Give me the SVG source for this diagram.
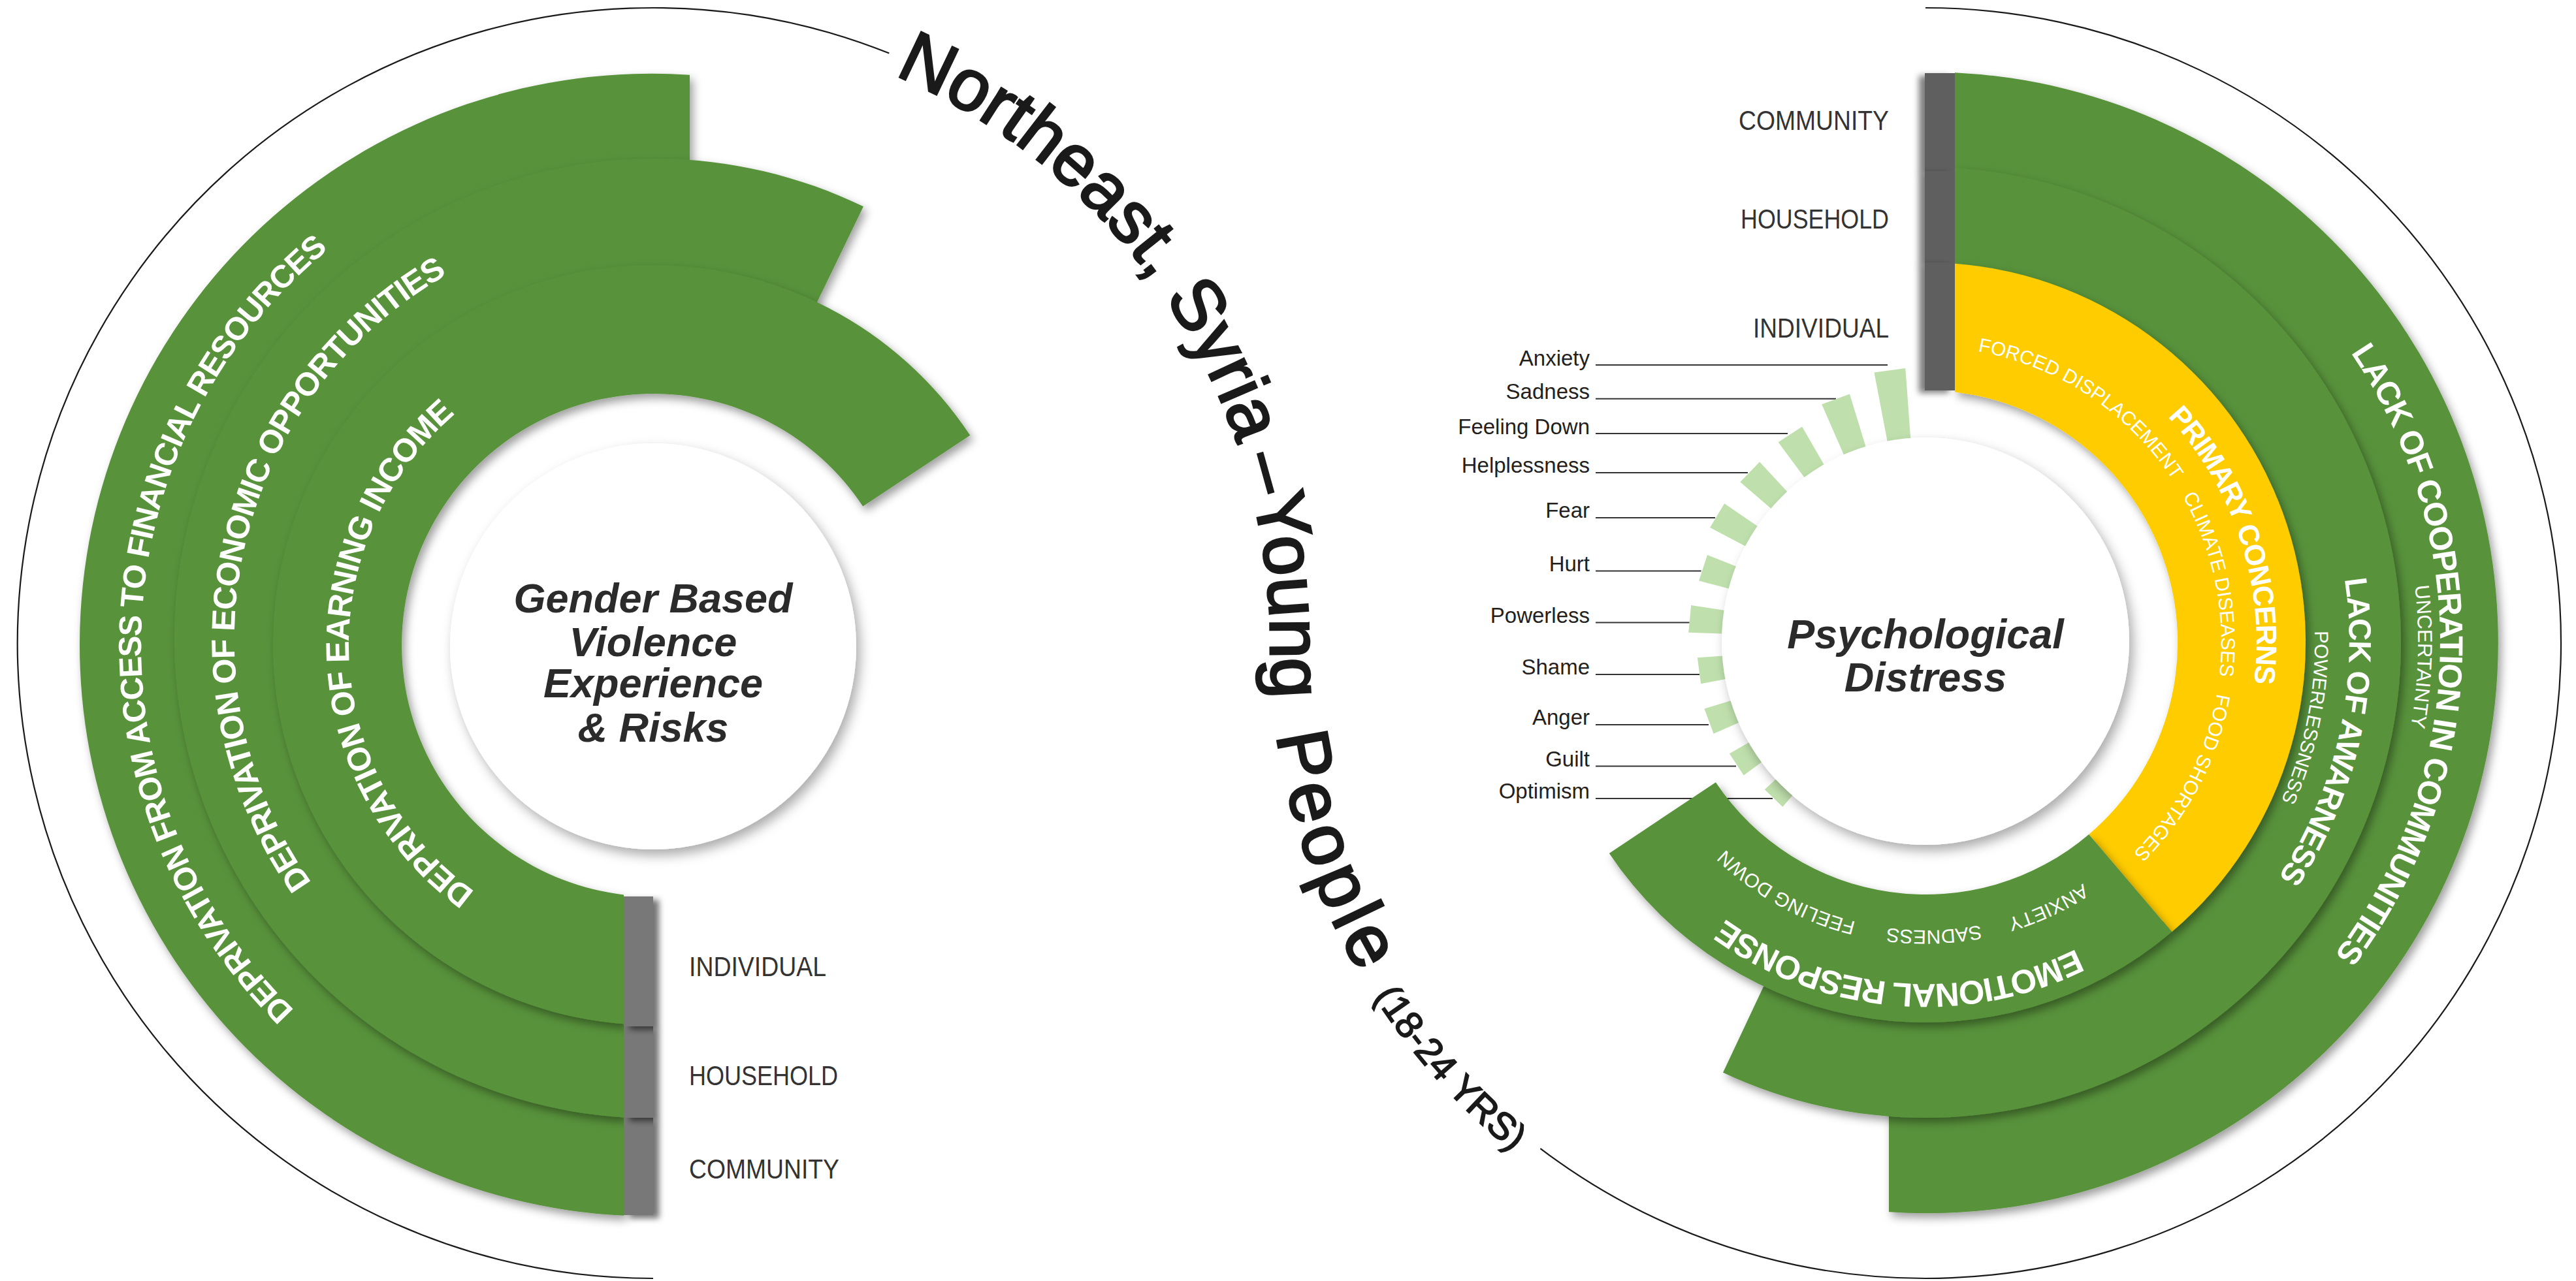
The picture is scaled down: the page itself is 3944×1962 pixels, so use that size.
<svg xmlns="http://www.w3.org/2000/svg" width="3944" height="1962" viewBox="0 0 3944 1962">
<defs>
<style>
.g{fill:#58923b}
.yl{fill:#ffcc00}
.lg{fill:#bfe0ad}
.gl{fill:#787878}
.gr{fill:#5f5f5f}
.wc{fill:#ffffff}
.bt{font-family:'Liberation Sans',Arial,sans-serif;font-weight:bold;fill:#ffffff}
.st{font-family:'Liberation Sans',Arial,sans-serif;fill:#ffffff}
.lv{font-family:'Liberation Sans',Arial,sans-serif;font-size:42px;fill:#333333}
.em{font-family:'Liberation Sans',Arial,sans-serif;font-size:33px;fill:#231f20;text-anchor:end}
.ct{font-family:'Liberation Sans',Arial,sans-serif;font-weight:bold;font-style:italic;font-size:63px;fill:#2b2b2b;text-anchor:middle}
.hd{font-family:'Liberation Sans',Arial,sans-serif;fill:#1a1a1a;stroke:#1a1a1a;stroke-width:3.2}
.ol{fill:none;stroke:#1a1a1a;stroke-width:2.2}
.ld{stroke:#333333;stroke-width:2;fill:none}
</style>
<filter id="sh" x="-5%" y="-5%" width="115%" height="115%"><feDropShadow dx="5" dy="7" stdDeviation="7" flood-color="#000" flood-opacity="0.38"/></filter>
<filter id="shc" x="-10%" y="-10%" width="125%" height="125%"><feDropShadow dx="6" dy="9" stdDeviation="9" flood-color="#000" flood-opacity="0.33"/></filter>
<filter id="shR" x="-20%" y="-20%" width="180%" height="140%"><feDropShadow dx="9" dy="5" stdDeviation="5" flood-color="#000" flood-opacity="0.55"/></filter>
<filter id="shL" x="-80%" y="-20%" width="180%" height="140%"><feDropShadow dx="-9" dy="4" stdDeviation="5" flood-color="#000" flood-opacity="0.5"/></filter>
<path id="pT" d="M 1369.2 115.1 A 945 945 0 0 1 1945 985 A 1003 1003 0 0 0 2605 1927.5"/>
<path id="pL1" d="M 830.3 1753.4 A 784 784 0 0 1 897.7 210.7"/>
<path id="pL2" d="M 755.9 1574.1 A 643 643 0 0 1 1030 337.6"/>
<path id="pL3" d="M 938.4 1449.9 A 466 466 0 0 1 899.9 532.9"/>
<path id="pR1" d="M 3105.1 211.8 A 788 788 0 0 1 3064.5 1763.3"/>
<path id="pR2" d="M 3100.3 245.5 A 754 754 0 0 1 3057.5 1730"/>
<path id="pR3" d="M 3195.8 384.2 A 649 649 0 0 1 2920.3 1632.4"/>
<path id="pR4" d="M 3163 428.1 A 596 596 0 0 1 2936 1579.9"/>
<path id="pR5" d="M 2877.4 481.9 A 507 507 0 0 1 3186 1431.6"/>
<path id="pR6" d="M 2721.5 591.7 A 453 453 0 1 1 2869.3 1430.1"/>
<path id="pR7" d="M 3453.8 1117.2 A 523 523 0 0 1 2427.2 1031.9"/>
<path id="pR8" d="M 3329.9 1204.5 A 441 441 0 0 1 2566.1 1204.5"/>
</defs>
<rect width="3944" height="1962" fill="#ffffff"/>

<g id="outline">
<path class="ol" d="M 1000 1958 A 973 973 0 1 1 1361.3 81.6"/>
<path class="ol" d="M 2358.4 1759 A 973 973 0 1 0 2948 12"/>
</g>

<g id="title">
<text class="hd" font-size="111"><textPath href="#pT" startOffset="0">Northeast, Syria</textPath></text>
<text class="hd" font-size="111"><textPath href="#pT" startOffset="818">–</textPath></text>
<text class="hd" font-size="111"><textPath href="#pT" startOffset="880">Young</textPath></text>
<text class="hd" font-size="112" letter-spacing="8"><textPath href="#pT" startOffset="1246">People</textPath></text>
<text class="hd" font-size="58" style="stroke-width:1.8"><textPath href="#pT" startOffset="1676">(18-24 YRS)</textPath></text>
</g>

<g id="connectors">
<line class="ld" x1="2443" y1="559" x2="2890" y2="559"/>
<line class="ld" x1="2443" y1="610.7" x2="2811" y2="610.7"/>
<line class="ld" x1="2443" y1="664" x2="2737" y2="664"/>
<line class="ld" x1="2443" y1="724" x2="2676" y2="724"/>
<line class="ld" x1="2443" y1="793" x2="2626" y2="793"/>
<line class="ld" x1="2443" y1="874.5" x2="2604.6" y2="874.5"/>
<line class="ld" x1="2443" y1="953.6" x2="2586.7" y2="953.6"/>
<line class="ld" x1="2443" y1="1033" x2="2602" y2="1033"/>
<line class="ld" x1="2443" y1="1110" x2="2616" y2="1110"/>
<line class="ld" x1="2443" y1="1173.5" x2="2658" y2="1173.5"/>
<line class="ld" x1="2443" y1="1223" x2="2714" y2="1223"/>
</g>

<g id="gbv-diagram">
<g id="band-financial">
<path class="g" filter="url(#sh)" d="M 955 1861.8 A 875 875 0 1 1 1056 114.8 L 1056 290.2 A 700 700 0 1 0 955 1686.6 Z"/>
</g>
<g id="band-economic">
<path class="g" filter="url(#sh)" d="M 955 1711.5 A 735 735 0 1 1 1321.9 316.3 L 1228.3 509.8 A 520 520 0 1 0 955 1495.9 Z"/>
</g>
<g id="band-income">
<path class="g" filter="url(#sh)" d="M 955 1568.3 A 582 582 0 1 1 1485.3 666.8 L 1321.1 775.5 A 385 385 0 1 0 955 1370.4 Z"/>
</g>
<g id="gbv-levels">
<rect class="gl" filter="url(#shR)" x="955" y="1711" width="45" height="150"/>
<rect class="gl" filter="url(#shR)" x="955" y="1571" width="45" height="141"/>
<rect class="gl" filter="url(#shR)" x="955" y="1373" width="45" height="199"/>
</g>
<g id="gbv-center">
<circle class="wc" filter="url(#shc)" cx="1000" cy="990" r="311"/>
<text class="ct" x="1000" y="937.5">Gender Based</text>
<text class="ct" x="1000" y="1005">Violence</text>
<text class="ct" x="1000" y="1068">Experience</text>
<text class="ct" x="1000" y="1135.5">&amp; Risks</text>
</g>
<g id="gbv-band-labels">
<text class="bt" font-size="49" letter-spacing="-1.5"><textPath href="#pL1" startOffset="50%" text-anchor="middle">DEPRIVATION FROM ACCESS TO FINANCIAL RESOURCES</textPath></text>
<text class="bt" font-size="50" letter-spacing="-1.5"><textPath href="#pL2" startOffset="50%" text-anchor="middle">DEPRIVATION OF ECONOMIC OPPORTUNITIES</textPath></text>
<text class="bt" font-size="50" letter-spacing="-1.2"><textPath href="#pL3" startOffset="50%" text-anchor="middle">DEPRIVATION OF EARNING INCOME</textPath></text>
</g>
<g id="gbv-level-labels">
<text class="lv" x="1055" y="1494.5" textLength="210" lengthAdjust="spacingAndGlyphs">INDIVIDUAL</text>
<text class="lv" x="1055" y="1661.6" textLength="228" lengthAdjust="spacingAndGlyphs">HOUSEHOLD</text>
<text class="lv" x="1055" y="1805" textLength="230" lengthAdjust="spacingAndGlyphs">COMMUNITY</text>
</g>
</g>

<g id="pd-diagram">
<g id="band-cooperation">
<path class="g" filter="url(#sh)" d="M 2993 111.2 A 874 874 0 1 1 2892 1856.2 L 2892 1681.8 A 700 700 0 1 0 2993 285.4 Z"/>
</g>
<g id="band-awareness">
<path class="g" filter="url(#sh)" d="M 2993 257.4 A 728 728 0 1 1 2638 1642.7 L 2709.6 1490.7 A 560 560 0 1 0 2993 425.8 Z"/>
</g>
<g id="band-primary">
<path class="yl" filter="url(#sh)" d="M 2993 403.7 A 582 582 0 0 1 3325.2 1427.2 L 3198.2 1278 A 386 386 0 0 0 2993 600.6 Z"/>
</g>
<g id="band-emotional">
<path class="g" filter="url(#sh)" d="M 3325.2 1427.2 A 582 582 0 0 1 2463.8 1306.9 L 2626.9 1198.2 A 386 386 0 0 0 3198.2 1278 Z"/>
</g>
<g id="pd-levels">
<rect class="gr" filter="url(#shL)" x="2947" y="112" width="46" height="151"/>
<rect class="gr" filter="url(#shL)" x="2947" y="262" width="46" height="141"/>
<rect class="gr" filter="url(#shL)" x="2947" y="402" width="46" height="196"/>
</g>
<g id="emotion-ticks">
<polygon class="lg" points="2869.5,570.4 2917.3,564.1 2926,682.8 2891.8,687.3"/>
<polygon class="lg" points="2789.2,619.3 2831.9,603.4 2860,695.2 2827.7,707.2"/>
<polygon class="lg" points="2722.6,677.3 2759.1,653.4 2798.5,721.9 2769.6,740.8"/>
<polygon class="lg" points="2664.3,738.3 2694.1,707.4 2744.4,761.7 2720.4,786.5"/>
<polygon class="lg" points="2618.1,808 2640.2,771.3 2700.5,812.5 2682.6,842.1"/>
<polygon class="lg" points="2601.1,889.4 2614.1,850.1 2669,871.8 2658.1,904.6"/>
<polygon class="lg" points="2585.2,968.7 2589.2,927.1 2651.5,936.6 2648.2,971"/>
<polygon class="lg" points="2598.9,1007.3 2604.1,1047.3 2653.3,1038 2648.8,1003.7"/>
<polygon class="lg" points="2609.5,1085.5 2623.6,1123.7 2673.1,1102.1 2661.1,1069.7"/>
<polygon class="lg" points="2647.9,1154.2 2669.7,1187.6 2706.7,1160.3 2687.8,1131.3"/>
<polygon class="lg" points="2701.8,1209.2 2729.3,1235.8 2752.2,1209.3 2727.5,1185.4"/>
</g>
<g id="pd-center">
<circle class="wc" filter="url(#shc)" cx="2948" cy="982" r="312"/>
<text class="ct" x="2948" y="993">Psychological</text>
<text class="ct" x="2948" y="1059">Distress</text>
</g>
<g id="pd-band-labels">
<text class="bt" font-size="50" letter-spacing="-1.6"><textPath href="#pR1" startOffset="50%" text-anchor="middle">LACK OF COOPERATION IN COMMUNITIES</textPath></text>
<text class="st" font-size="31"><textPath href="#pR2" startOffset="50%" text-anchor="middle">UNCERTAINTY</textPath></text>
<text class="bt" font-size="48" letter-spacing="-1.4"><textPath href="#pR3" startOffset="50%" text-anchor="middle">LACK OF AWARNESS</textPath></text>
<text class="st" font-size="29.5"><textPath href="#pR4" startOffset="50%" text-anchor="middle">POWERLESSNESS</textPath></text>
<text class="bt" font-size="44" letter-spacing="-1.4"><textPath href="#pR5" startOffset="50%" text-anchor="middle">PRIMARY CONCERNS</textPath></text>
<text class="st" font-size="30"><textPath href="#pR6" startOffset="501.7" text-anchor="middle">FORCED DISPLACEMENT</textPath></text>
<text class="st" font-size="30"><textPath href="#pR6" startOffset="857.4" text-anchor="middle">CLIMATE DISEASES</textPath></text>
<text class="st" font-size="30"><textPath href="#pR6" startOffset="1167.4" text-anchor="middle">FOOD SHORTAGES</textPath></text>
<text class="bt" font-size="51" letter-spacing="-2.1"><textPath href="#pR7" startOffset="50%" text-anchor="middle">EMOTIONAL RESPONSE</textPath></text>
<text class="st" font-size="30"><textPath href="#pR8" startOffset="270.9" text-anchor="middle">ANXIETY</textPath></text>
<text class="st" font-size="30"><textPath href="#pR8" startOffset="448.7" text-anchor="middle">SADNESS</textPath></text>
<text class="st" font-size="30"><textPath href="#pR8" startOffset="685" text-anchor="middle">FEELING DOWN</textPath></text>
</g>
<g id="pd-level-labels">
<text class="lv" x="2662" y="199" textLength="230" lengthAdjust="spacingAndGlyphs">COMMUNITY</text>
<text class="lv" x="2665" y="349.5" textLength="227" lengthAdjust="spacingAndGlyphs">HOUSEHOLD</text>
<text class="lv" x="2684" y="516.6" textLength="208" lengthAdjust="spacingAndGlyphs">INDIVIDUAL</text>
</g>
<g id="emotion-labels">
<text class="em" x="2434" y="560">Anxiety</text>
<text class="em" x="2434" y="611">Sadness</text>
<text class="em" x="2434" y="665">Feeling Down</text>
<text class="em" x="2434" y="724">Helplessness</text>
<text class="em" x="2434" y="793">Fear</text>
<text class="em" x="2434" y="875">Hurt</text>
<text class="em" x="2434" y="954">Powerless</text>
<text class="em" x="2434" y="1033">Shame</text>
<text class="em" x="2434" y="1110">Anger</text>
<text class="em" x="2434" y="1173.5">Guilt</text>
<text class="em" x="2434" y="1223">Optimism</text>
</g>
</g>
</svg>
